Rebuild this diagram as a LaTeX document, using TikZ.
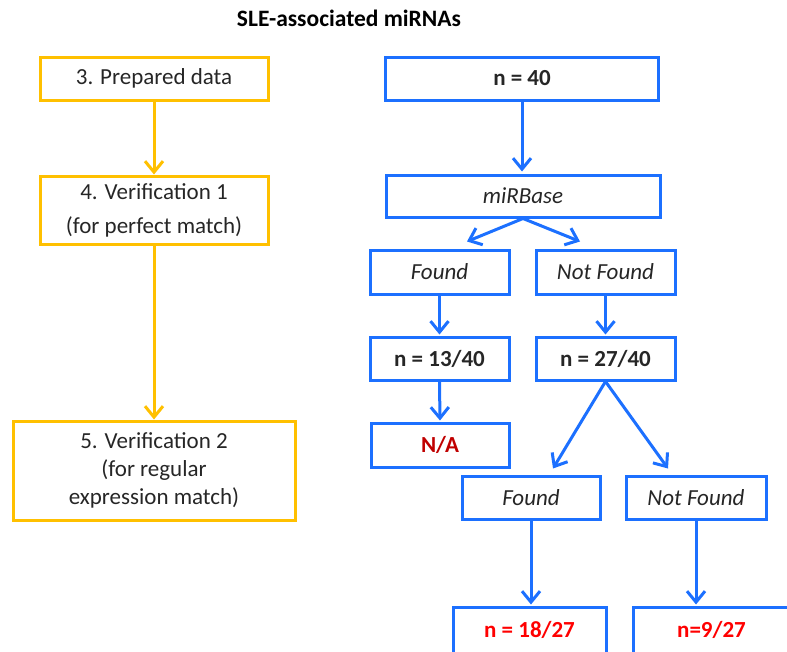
\documentclass[tikz,border=0pt]{standalone}
\usepackage{fontspec}
\setmainfont{Carlito}
\usetikzlibrary{arrows.meta,calc}
\definecolor{ygold}{RGB}{255,192,0}
\definecolor{fblue}{RGB}{28,112,255}
\definecolor{txt}{RGB}{38,38,38}
\definecolor{darkred}{RGB}{192,0,0}
\definecolor{brightred}{RGB}{255,0,0}
\newcommand{\boxfont}{\fontsize{23}{28}\selectfont}
\tikzset{
  ybox/.style={draw=ygold, line width=3pt, align=center, text=txt, inner sep=0pt, font=\boxfont},
  bbox/.style={draw=fblue, line width=3pt, align=center, text=txt, inner sep=0pt, font=\boxfont},
  yarrow/.style={draw=ygold, line width=3pt, -{Straight Barb[length=11pt,width=18pt]}},
  barrow/.style={draw=fblue, line width=3pt, -{Straight Barb[length=11pt,width=18pt]}},
}
\begin{document}
\begin{tikzpicture}[x=1pt,y=-1pt]
  \useasboundingbox (0,0) rectangle (787,651);

  % title
  \node[text=black, font=\fontsize{23.5}{28}\selectfont\bfseries] (title) at (349,18) {SLE-associated miRNAs};

  % left column: process steps
  \node[ybox, minimum width=228pt, minimum height=43pt] (y1) at (154,78.5) {3. Prepared data};
  \node[ybox, minimum width=228pt, minimum height=68pt] (y2) at (154,210) {4. Verification 1\\[6pt](for perfect match)};
  \node[ybox, minimum width=282pt, minimum height=99pt] (y3) at (154,470.5) {5. Verification 2\\(for regular\\expression match)};
  \draw[yarrow] (y1.south) -- (y2.north);
  \draw[yarrow] (y2.south) -- (y3.north);

  % right column: counts
  \node[bbox, minimum width=273pt, minimum height=43pt, font=\boxfont\bfseries] (b40) at (522,78.5) {n = 40};
  \node[bbox, minimum width=274pt, minimum height=42pt, font=\boxfont\itshape] (mir) at (523,196) {miRBase};
  \node[bbox, minimum width=139pt, minimum height=44pt, font=\boxfont\itshape] (f1) at (439.5,272) {Found};
  \node[bbox, minimum width=139pt, minimum height=44pt, font=\boxfont\itshape] (nf1) at (605.5,272) {Not Found};
  \node[bbox, minimum width=139pt, minimum height=43pt, font=\boxfont\bfseries] (n13) at (439.5,358.5) {n = 13/40};
  \node[bbox, minimum width=139pt, minimum height=43pt, font=\boxfont\bfseries] (n27) at (605.5,358.5) {n = 27/40};
  \node[bbox, minimum width=138pt, minimum height=44pt, text=darkred, font=\boxfont\bfseries] (na) at (440,445) {N/A};
  \node[bbox, minimum width=138pt, minimum height=43pt, font=\boxfont\itshape] (f2) at (531,497.5) {Found};
  \node[bbox, minimum width=140pt, minimum height=43pt, font=\boxfont\itshape] (nf2) at (696,497.5) {Not Found};
  \node[bbox, minimum width=153pt, minimum height=46pt, text=brightred, font=\boxfont\bfseries] (n18) at (529.5,630) {n = 18/27};
  \node[bbox, minimum width=157pt, minimum height=46pt, text=brightred, font=\boxfont\bfseries] (n9) at (711.5,630) {n=9/27};

  % arrow ends of the branching connectors
  \coordinate (tf1) at ($(f1.north)+(27.5,-7)$);
  \coordinate (tnf1) at ($(nf1.north)+(-25.5,-7)$);
  \coordinate (tf2) at ($(f2.north)+(22,-6)$);
  \coordinate (tnf2) at ($(nf2.north)+(-28,-6)$);

  \draw[barrow, shorten >=2pt] (b40.south) -- (mir.north -| b40.south);
  \draw[barrow] (mir.south) -- (tf1);
  \draw[barrow] (mir.south) -- (tnf1);
  \draw[barrow, shorten >=1pt] (f1.south) -- (n13.north);
  \draw[barrow, shorten >=1pt] (nf1.south) -- (n27.north);
  \draw[barrow, shorten >=1pt] (n13.south) -- (na.north);
  \draw[barrow] (n27.south) -- (tf2);
  \draw[barrow] (n27.south) -- (tnf2);
  \draw[barrow, shorten >=1pt] (f2.south) -- (n18.north -| f2.south);
  \draw[barrow, shorten >=1pt] (nf2.south) -- (n9.north -| nf2.south);
\end{tikzpicture}
\end{document}
